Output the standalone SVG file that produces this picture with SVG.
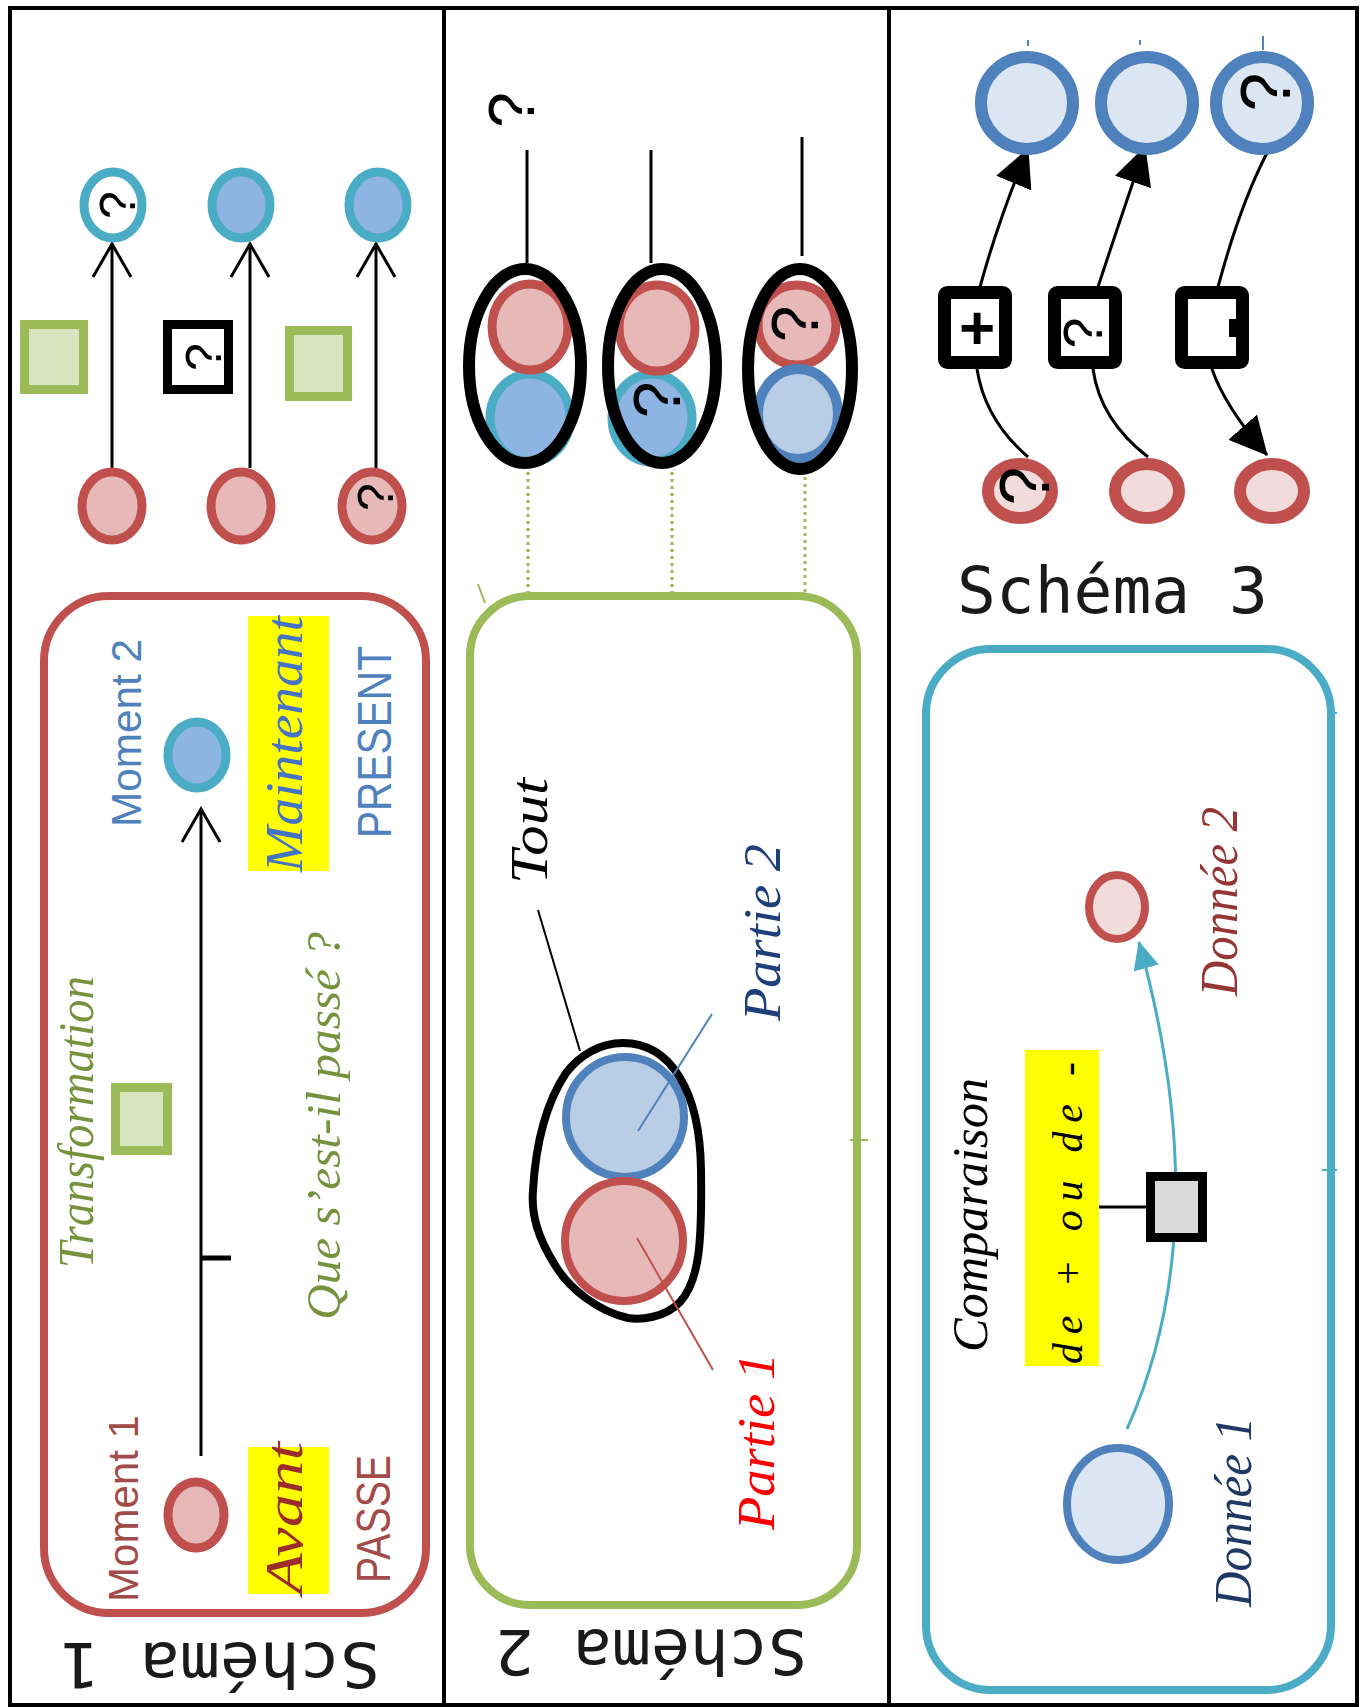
<svg xmlns="http://www.w3.org/2000/svg" width="1365" height="1707" viewBox="0 0 1365 1707">
<style>
.frame{fill:none;stroke:#000;stroke-width:4}
.sans{font-family:"Liberation Sans",Arial,sans-serif}
.mono{font-family:"DejaVu Sans Mono","Liberation Mono",monospace;fill:#1a1a1a}
.hand{font-family:"Liberation Serif","DejaVu Serif",serif;font-style:italic}
.q{font-family:"Liberation Sans",Arial,sans-serif;fill:#000;text-anchor:middle}
.red1{fill:#E6B9B8;stroke:#C0504D;stroke-width:9}
.red3{fill:#F2DCDB;stroke:#C0504D;stroke-width:12}
.cyan1{fill:#8EB4E3;stroke:#4BACC6;stroke-width:9}
.cyanw{fill:#fff;stroke:#4BACC6;stroke-width:9}
.blue3{fill:#DCE6F2;stroke:#4F81BD;stroke-width:12}
.gsq{fill:#D7E4BD;stroke:#9BBB59;stroke-width:9}
.bsq{fill:#fff;stroke:#000;stroke-width:9}
.bsq3{fill:#fff;stroke:#000;stroke-width:13}
.oval{fill:none;stroke:#000;stroke-width:12}
.blk{fill:none;stroke:#000;stroke-width:3}
.yel{fill:#FFFF00}
.dot{fill:none;stroke:#9BBB59;stroke-width:3;stroke-dasharray:3 4}
</style>
<defs>
<marker id="mOpen" markerUnits="userSpaceOnUse" viewBox="-2 -2 38 44" refX="33" refY="20" markerWidth="38" markerHeight="44" orient="auto">
<path d="M0 1 L33 20 L0 39" fill="none" stroke="#000" stroke-width="3"/>
</marker>
<marker id="mSolid" markerUnits="userSpaceOnUse" viewBox="0 0 38 38" refX="37" refY="19" markerWidth="38" markerHeight="38" orient="auto">
<path d="M0 0 L38 19 L0 38 Z" fill="#000"/>
</marker>
<marker id="mCyan" markerUnits="userSpaceOnUse" viewBox="0 0 28 26" refX="27" refY="13" markerWidth="28" markerHeight="26" orient="auto">
<path d="M0 0 L28 13 L0 26 Z" fill="#4BACC6"/>
</marker>
</defs>
<rect width="1365" height="1707" fill="#fff"/>

<g id="frame">
<rect class="frame" x="10" y="8" width="1347" height="1697"/>
<line class="frame" x1="444" y1="8" x2="444" y2="1705"/>
<line class="frame" x1="889" y1="8" x2="889" y2="1705"/>
</g>

<!-- containers -->
<g id="box1"><rect x="44" y="596" width="382" height="1017" rx="65" fill="none" stroke="#C0504D" stroke-width="8"/></g>
<g id="box2"><rect x="470" y="596" width="387" height="1009" rx="60" fill="none" stroke="#9BBB59" stroke-width="8"/>
<line x1="478" y1="584" x2="485" y2="603" stroke="#9BBB59" stroke-width="2"/>
<line x1="850" y1="1140" x2="868" y2="1140" stroke="#9BBB59" stroke-width="2"/></g>
<g id="box3"><rect x="926" y="649" width="405" height="1041" rx="65" fill="none" stroke="#4BACC6" stroke-width="8"/>
<line x1="1327" y1="713" x2="1337" y2="713" stroke="#4BACC6" stroke-width="2"/>
<line x1="1322" y1="1170" x2="1337" y2="1170" stroke="#4BACC6" stroke-width="2"/></g>

<!-- connectors -->
<g id="connectors">
<path class="blk" d="M112 468 V244" marker-end="url(#mOpen)"/>
<path class="blk" d="M250 468 V244" marker-end="url(#mOpen)"/>
<path class="blk" d="M376 468 V244" marker-end="url(#mOpen)"/>
<path class="blk" d="M201 1456 V809" marker-end="url(#mOpen)"/>
<path d="M201 1258 H231" stroke="#000" stroke-width="5"/>
<path class="blk" d="M527 150 V263"/>
<path class="blk" d="M651 150 V263"/>
<path class="blk" d="M802 137 V256"/>
<path class="dot" d="M528 472 V592"/>
<path class="dot" d="M672 472 V592"/>
<path class="dot" d="M805 477 V592"/>
<path class="blk" d="M980 287 Q998 221 1028 149" marker-end="url(#mSolid)"/>
<path class="blk" d="M977 369 Q985 420 1028 457"/>
<path class="blk" d="M1098 287 Q1119 223 1145 147" marker-end="url(#mSolid)"/>
<path class="blk" d="M1093 369 Q1100 420 1148 457"/>
<path class="blk" d="M1267 153 Q1240 205 1218 287"/>
<path class="blk" d="M1212 369 Q1225 407 1267 455" marker-end="url(#mSolid)"/>
<path d="M1127 1429 Q1218 1227 1139 942" fill="none" stroke="#4BACC6" stroke-width="3" marker-end="url(#mCyan)"/>
<path d="M1099 1207 H1147" stroke="#000" stroke-width="3"/>
<line x1="1028" y1="40" x2="1028" y2="46" stroke="#4F81BD" stroke-width="2"/>
<line x1="1140" y1="40" x2="1140" y2="45" stroke="#4F81BD" stroke-width="2"/>
<line x1="1263" y1="36" x2="1263" y2="50" stroke="#4F81BD" stroke-width="2"/>
</g>

<!-- Schema 1 top -->
<g id="s1-top-a1"><ellipse class="cyanw" cx="113" cy="205" rx="29" ry="33"/>
<text class="q" font-size="50" transform="translate(117 205) rotate(-90)" dy="0.36em">?</text></g>
<g id="s1-top-a2"><ellipse class="cyan1" cx="241" cy="205" rx="29" ry="33"/></g>
<g id="s1-top-a3"><ellipse class="cyan1" cx="378" cy="205" rx="29" ry="33"/></g>
<g id="s1-top-t1"><rect class="gsq" x="24.5" y="324.5" width="59" height="65"/></g>
<g id="s1-top-t2"><rect class="bsq" x="167.5" y="324.5" width="61" height="65"/>
<text class="q" font-size="50" transform="translate(203 357) rotate(-90)" dy="0.36em">?</text></g>
<g id="s1-top-t3"><rect class="gsq" x="289.5" y="330.5" width="58" height="66"/></g>
<g id="s1-top-b1"><ellipse class="red1" cx="112" cy="506" rx="30" ry="34"/></g>
<g id="s1-top-b2"><ellipse class="red1" cx="241" cy="506" rx="30" ry="34"/></g>
<g id="s1-top-b3"><ellipse class="red1" cx="372" cy="506" rx="30" ry="34"/>
<text class="q" font-size="50" transform="translate(375 497) rotate(-90)" dy="0.36em">?</text></g>

<!-- Schema 1 legend -->
<g id="s1-moment2"><ellipse class="cyan1" cx="197" cy="755" rx="29" ry="33"/>
<text class="sans" font-size="42" fill="#4F81BD" transform="translate(141 827) rotate(-90)" textLength="188" lengthAdjust="spacingAndGlyphs">Moment 2</text></g>
<g id="s1-present"><rect class="yel" x="248" y="616" width="81" height="255"/>
<text class="hand" font-size="52" fill="#4472C4" transform="translate(302 872) rotate(-90)" textLength="256" lengthAdjust="spacingAndGlyphs">Maintenant</text>
<text class="sans" font-size="48" fill="#4F81BD" transform="translate(391 838) rotate(-90)" textLength="192" lengthAdjust="spacingAndGlyphs">PRESENT</text></g>
<g id="s1-transfo"><rect class="gsq" x="115.5" y="1087.5" width="52" height="63"/>
<text class="hand" font-size="50" fill="#76923C" transform="translate(93 1268) rotate(-90)" textLength="292" lengthAdjust="spacingAndGlyphs">Transformation</text>
<text class="hand" font-size="48" fill="#76923C" transform="translate(340 1320) rotate(-90)" textLength="388" lengthAdjust="spacingAndGlyphs">Que s’est-il passé ?</text></g>
<g id="s1-moment1"><ellipse class="red1" cx="196" cy="1515" rx="28" ry="33"/>
<text class="sans" font-size="42" fill="#A24B49" transform="translate(138 1602) rotate(-90)" textLength="187" lengthAdjust="spacingAndGlyphs">Moment 1</text></g>
<g id="s1-passe"><rect class="yel" x="248" y="1447" width="81" height="147"/>
<text class="hand" font-size="52" fill="#9C2B2B" transform="translate(302 1594) rotate(-90)" textLength="152" lengthAdjust="spacingAndGlyphs">Avant</text>
<text class="sans" font-size="48" fill="#A24B49" transform="translate(390 1583) rotate(-90)" textLength="128" lengthAdjust="spacingAndGlyphs">PASSE</text></g>
<g id="s1-title"><text class="mono" font-size="62" transform="translate(380 1643) rotate(180)" textLength="320" lengthAdjust="spacingAndGlyphs">Schéma 1</text></g>

<!-- Schema 2 top -->
<g id="s2-top-q"><text class="q" font-size="64" transform="translate(511 110) rotate(-90)" dy="0.36em">?</text></g>
<g id="s2-top-1"><ellipse class="cyan1" cx="530" cy="418" rx="40" ry="44" stroke-width="10"/>
<ellipse class="red1" cx="530" cy="327" rx="38" ry="43" stroke-width="10"/>
<ellipse class="oval" cx="525" cy="366" rx="56" ry="97"/></g>
<g id="s2-top-2"><ellipse class="cyan1" cx="652" cy="418" rx="40" ry="44" stroke-width="10"/>
<ellipse class="red1" cx="657" cy="328" rx="38" ry="43" stroke-width="10"/>
<ellipse class="oval" cx="662" cy="366" rx="54" ry="97"/>
<text class="q" font-size="66" transform="translate(656 400) rotate(-90)" dy="0.36em">?</text></g>
<g id="s2-top-3"><ellipse class="red1" cx="797" cy="325" rx="39" ry="40" stroke-width="10"/>
<ellipse cx="798" cy="414" rx="40" ry="45" fill="#B9CDE5" stroke="#4F81BD" stroke-width="10"/>
<ellipse class="oval" cx="800" cy="369" rx="52" ry="100"/>
<text class="q" font-size="66" transform="translate(794 324) rotate(-90)" dy="0.36em">?</text></g>

<!-- Schema 2 legend -->
<g id="s2-tout"><ellipse cx="625" cy="1117" rx="59" ry="60" fill="#B9CDE5" stroke="#4F81BD" stroke-width="8"/>
<ellipse cx="624" cy="1241" rx="59" ry="60" fill="#E6B9B8" stroke="#C0504D" stroke-width="8"/>
<path d="M623 1043 C670 1043 700 1090 701 1170 C702 1240 700 1280 680 1302 C665 1318 640 1320 628 1318 C600 1312 570 1290 555 1265 C538 1238 531 1215 533 1190 C536 1140 548 1100 566 1073 C580 1055 600 1043 623 1043 Z" fill="none" stroke="#000" stroke-width="8"/>
<text class="hand" font-size="52" fill="#000" transform="translate(547 884) rotate(-90)" textLength="106" lengthAdjust="spacingAndGlyphs">Tout</text></g>
<g id="s2-partie2"><text class="hand" font-size="52" fill="#1F3F7A" transform="translate(780 1021) rotate(-90)" textLength="177" lengthAdjust="spacingAndGlyphs">Partie 2</text></g>
<g id="s2-partie1"><text class="hand" font-size="52" fill="#FF0000" transform="translate(774 1530) rotate(-90)" textLength="177" lengthAdjust="spacingAndGlyphs">Partie 1</text></g>
<g id="s2-title"><text class="mono" font-size="62" transform="translate(807 1630) rotate(180)" textLength="312" lengthAdjust="spacingAndGlyphs">Schéma 2</text></g>

<!-- Schema 3 top -->
<g id="s3-top-a1"><ellipse class="blue3" cx="1027" cy="103" rx="46" ry="46"/></g>
<g id="s3-top-a2"><ellipse class="blue3" cx="1147" cy="103" rx="46" ry="46"/></g>
<g id="s3-top-a3"><ellipse class="blue3" cx="1262" cy="103" rx="46" ry="46"/>
<text class="q" font-size="70" transform="translate(1265 92) rotate(-90)" dy="0.36em">?</text></g>
<g id="s3-top-t1"><rect class="bsq3" x="944.5" y="292.5" width="61" height="70" rx="3"/>
<text class="sans" font-size="62" font-weight="bold" text-anchor="middle" x="977" y="349">+</text></g>
<g id="s3-top-t2"><rect class="bsq3" x="1054.5" y="292.5" width="61" height="70" rx="3"/>
<text class="q" font-size="56" transform="translate(1082 333) rotate(-90)" dy="0.36em">?</text></g>
<g id="s3-top-t3"><rect class="bsq3" x="1181.5" y="292.5" width="61" height="70" rx="3"/>
<rect x="1229" y="319" width="12" height="18" fill="#000"/></g>
<g id="s3-top-b1"><ellipse class="red3" cx="1020" cy="491" rx="32" ry="27"/>
<text class="q" font-size="70" transform="translate(1024 486) rotate(-90)" dy="0.36em">?</text></g>
<g id="s3-top-b2"><ellipse class="red3" cx="1147" cy="491" rx="32" ry="27"/></g>
<g id="s3-top-b3"><ellipse class="red3" cx="1272" cy="491" rx="32" ry="27"/></g>
<g id="s3-title"><text class="mono" font-size="64" x="957" y="613" textLength="311" lengthAdjust="spacingAndGlyphs">Schéma 3</text></g>

<!-- Schema 3 legend -->
<g id="s3-donnee2"><ellipse cx="1117" cy="907" rx="28" ry="32" fill="#F2DCDB" stroke="#C0504D" stroke-width="8"/>
<text class="hand" font-size="52" fill="#943634" transform="translate(1237 996) rotate(-90)" textLength="189" lengthAdjust="spacingAndGlyphs">Donnée 2</text></g>
<g id="s3-comparaison"><rect x="1150.5" y="1176.5" width="52" height="61" fill="#D9D9D9" stroke="#000" stroke-width="9"/>
<rect class="yel" x="1025" y="1050" width="74" height="316"/>
<text class="hand" font-size="42" fill="#000" transform="translate(1082 1364) rotate(-90)" textLength="302" lengthAdjust="spacing">de + ou de -</text>
<text class="hand" font-size="50" fill="#000" transform="translate(987 1352) rotate(-90)" textLength="274" lengthAdjust="spacingAndGlyphs">Comparaison</text></g>
<g id="s3-donnee1"><ellipse cx="1118" cy="1504" rx="51" ry="56" fill="#DCE6F2" stroke="#4F81BD" stroke-width="8"/>
<text class="hand" font-size="52" fill="#1F3864" transform="translate(1251 1607) rotate(-90)" textLength="190" lengthAdjust="spacingAndGlyphs">Donnée 1</text></g>

<g id="label-leaders">
<line x1="538" y1="910" x2="580" y2="1051" stroke="#000" stroke-width="2"/>
<line x1="638" y1="1131" x2="712" y2="1014" stroke="#4F81BD" stroke-width="2"/>
<line x1="637" y1="1238" x2="713" y2="1370" stroke="#C0504D" stroke-width="2"/>
</g>
</svg>
